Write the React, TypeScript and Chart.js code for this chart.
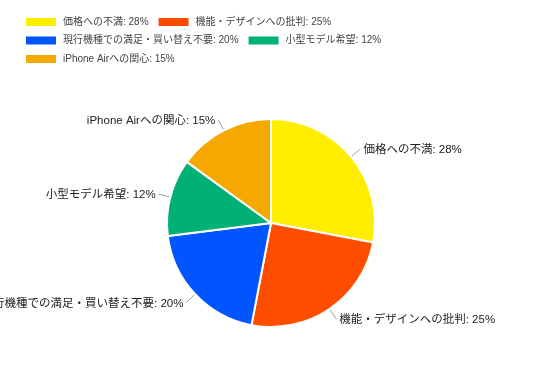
import React, { useEffect, useRef } from "react";
import { Chart, registerables } from "chart.js";

Chart.register(...registerables);

// Survey breakdown (percent)
const categories = [
  "価格への不満",
  "機能・デザインへの批判",
  "現行機種での満足・買い替え不要",
  "小型モデル希望",
  "iPhone Airへの関心",
];
const shares = [28, 25, 20, 12, 15];
const sliceColors = ["#FFEE00", "#FF4D00", "#0055FF", "#00B077", "#F5A800"];

const FONT = "Arial, 'Liberation Sans', 'Noto Sans CJK JP', sans-serif";

const labelText = (i: number) => `${categories[i]}: ${shares[i]}%`;

// Flow legend across the top: coloured bar + label, wrapping to new rows
const topLegend = {
  id: "topLegend",
  afterDraw(chart: any) {
    const ctx = chart.ctx;
    const left = 26;
    const maxRight = chart.width - 26;
    const boxW = 30;
    const boxH = 8;
    const textGap = 7;
    const itemGap = 10;
    const rowH = 18.5;
    let x = left;
    let y = 22;
    ctx.save();
    ctx.font = `10px ${FONT}`;
    ctx.textBaseline = "middle";
    ctx.textAlign = "left";
    categories.forEach((_, i) => {
      const t = labelText(i);
      const w = boxW + textGap + ctx.measureText(t).width;
      if (x > left && x + w > maxRight) {
        x = left;
        y += rowH;
      }
      ctx.fillStyle = sliceColors[i];
      ctx.fillRect(x, y - boxH / 2, boxW, boxH);
      ctx.fillStyle = "#444";
      ctx.fillText(t, x + boxW + textGap, y);
      x += w + itemGap;
    });
    ctx.restore();
  },
};

// Outside labels joined to the middle of each slice by a short leader line
const sliceLabels = {
  id: "sliceLabels",
  afterDatasetsDraw(chart: any) {
    const ctx = chart.ctx;
    const meta = chart.getDatasetMeta(0);
    ctx.save();
    ctx.font = `11.5px ${FONT}`;
    ctx.textBaseline = "middle";
    meta.data.forEach((arc: any, i: number) => {
      const { x, y, startAngle, endAngle, outerRadius } = arc.getProps(
        ["x", "y", "startAngle", "endAngle", "outerRadius"],
        true
      );
      const a = (startAngle + endAngle) / 2;
      const c = Math.cos(a);
      const s = Math.sin(a);
      const r0 = outerRadius + 1;
      const r1 = outerRadius + 12;
      const x1 = x + c * r1;
      const y1 = y + s * r1;
      ctx.strokeStyle = "#9e9e9e";
      ctx.lineWidth = 1;
      ctx.beginPath();
      ctx.moveTo(x + c * r0, y + s * r0);
      ctx.lineTo(x1, y1);
      ctx.stroke();
      ctx.fillStyle = "#222";
      if (c >= 0) {
        ctx.textAlign = "left";
        ctx.fillText(labelText(i), x1 + 3, y1 + 1);
      } else {
        ctx.textAlign = "right";
        ctx.fillText(labelText(i), x1 - 3, y1 + 1);
      }
    });
    ctx.restore();
  },
};

export default function App() {
  const ref = useRef<HTMLCanvasElement | null>(null);

  useEffect(() => {
    document.body.style.margin = "0";
    const canvas = ref.current;
    if (!canvas) return;
    const chart = new Chart(canvas, {
      type: "pie",
      data: {
        labels: categories,
        datasets: [
          {
            data: shares,
            backgroundColor: sliceColors,
            borderColor: "#ffffff",
            borderWidth: 2,
            hoverOffset: 0,
          },
        ],
      },
      options: {
        responsive: false,
        animation: false,
        devicePixelRatio: 1,
        layout: { padding: { top: 118, bottom: 55, left: 1, right: 0 } },
        plugins: {
          legend: { display: false },
          tooltip: { enabled: false },
        },
      },
      plugins: [topLegend, sliceLabels],
    });
    return () => chart.destroy();
  }, []);

  return (
    <div style={{ width: 541, height: 383, background: "#fff" }}>
      <canvas ref={ref} width={541} height={383} style={{ display: "block" }} />
    </div>
  );
}
